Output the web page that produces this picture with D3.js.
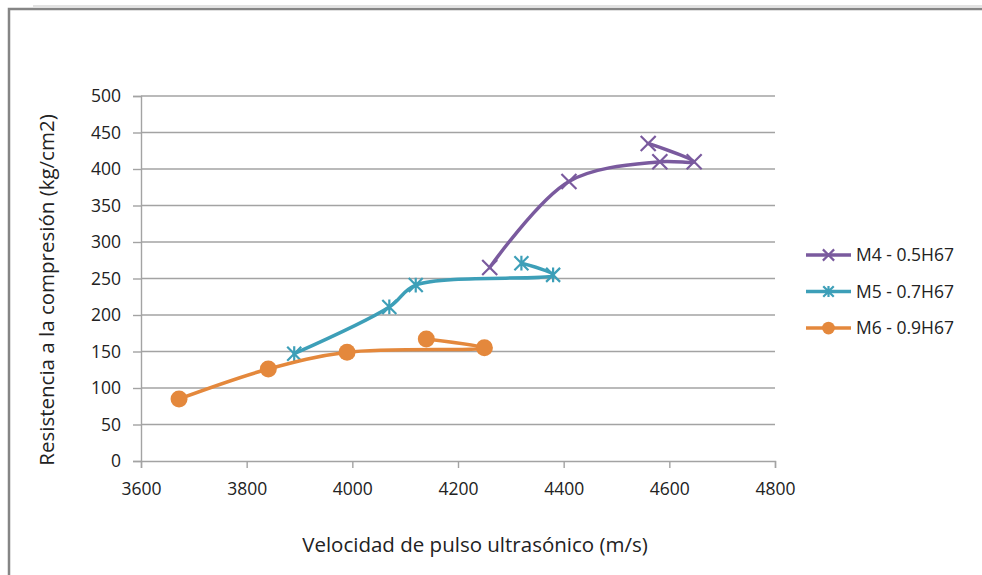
<!DOCTYPE html>
<html>
<head>
<meta charset="utf-8">
<script src="https://cdn.jsdelivr.net/npm/d3@7"></script>
<style>
  html, body { margin: 0; padding: 0; background: #fff; }
  svg { display: block; }
  text { font-family: "Open Sans", "DejaVu Sans", sans-serif; fill: #222; }
</style>
</head>
<body>
<svg id="chart" width="982" height="575"></svg>
<script>
// Ultrasonic pulse velocity (m/s) vs. compressive strength (kg/cm2)
const seriesNames = ["M4 - 0.5H67", "M5 - 0.7H67", "M6 - 0.9H67"];
const seriesColors = ["#7a5a9e", "#3d9fb8", "#e4883c"];
const seriesMarkers = ["x", "star", "circle"];

const m4Velocity = [4260, 4410, 4582, 4647, 4560];
const m4Strength = [265, 383, 410, 410, 435];

const m5Velocity = [3890, 4070, 4120, 4380, 4320];
const m5Strength = [147, 211, 241, 255, 271];

const m6Velocity = [3672, 3841, 3990, 4250, 4140];
const m6Strength = [85, 126, 149, 155, 167];

const xTicks = [3600, 3800, 4000, 4200, 4400, 4600, 4800];
const yTicks = [0, 50, 100, 150, 200, 250, 300, 350, 400, 450, 500];

const xTitle = "Velocidad de pulso ultrasónico (m/s)";
const yTitle = "Resistencia a la compresión (kg/cm2)";

const series = [
  { name: seriesNames[0], color: seriesColors[0], marker: seriesMarkers[0],
    pts: m4Velocity.map((v, i) => [v, m4Strength[i]]) },
  { name: seriesNames[1], color: seriesColors[1], marker: seriesMarkers[1],
    pts: m5Velocity.map((v, i) => [v, m5Strength[i]]) },
  { name: seriesNames[2], color: seriesColors[2], marker: seriesMarkers[2],
    pts: m6Velocity.map((v, i) => [v, m6Strength[i]]) }
];

const svg = d3.select("#chart");

// outer frame
svg.append("line").attr("x1", 33).attr("x2", 982).attr("y1", 6).attr("y2", 6)
  .attr("stroke", "#e2e2e2").attr("stroke-width", 2);
svg.append("path").attr("d", "M9,575V9H982")
  .attr("fill", "none").attr("stroke", "#858585").attr("stroke-width", 2.5);

const plot = { left: 141, right: 775, top: 96, bottom: 461 };

const x = d3.scaleLinear().domain([3600, 4800]).range([plot.left, plot.right]);
const y = d3.scaleLinear().domain([0, 500]).range([plot.bottom, plot.top]);

// horizontal gridlines
svg.append("g").selectAll("line").data(yTicks.filter(d => d > 0)).join("line")
  .attr("x1", plot.left).attr("x2", plot.right)
  .attr("y1", d => y(d)).attr("y2", d => y(d))
  .attr("stroke", "#a3a3a3").attr("stroke-width", 1.4);

// y axis
const yAxis = svg.append("g").attr("transform", `translate(${plot.left},0)`)
  .call(d3.axisLeft(y).tickValues(yTicks).tickSize(8).tickPadding(12).tickFormat(d3.format("d")));
yAxis.select(".domain").attr("stroke", "#a3a3a3").attr("stroke-width", 1.4);
yAxis.selectAll(".tick line").attr("stroke", "#a3a3a3").attr("stroke-width", 1.4);
yAxis.selectAll("text").attr("font-size", 17.5).attr("fill", "#222")
  .attr("font-family", "'Open Sans', sans-serif");

// x axis
const xAxis = svg.append("g").attr("transform", `translate(0,${plot.bottom})`)
  .call(d3.axisBottom(x).tickValues(xTicks).tickSize(7).tickPadding(15).tickFormat(d3.format("d")));
xAxis.select(".domain").attr("stroke", "#a3a3a3").attr("stroke-width", 1.4);
xAxis.selectAll(".tick line").attr("stroke", "#a3a3a3").attr("stroke-width", 1.4);
xAxis.selectAll("text").attr("font-size", 17.5).attr("fill", "#222")
  .attr("font-family", "'Open Sans', sans-serif");

// axis titles
svg.append("text").attr("x", 475).attr("y", 552)
  .attr("text-anchor", "middle").attr("font-size", 20.5).text(xTitle);
svg.append("text")
  .attr("transform", "translate(54,290) rotate(-90)")
  .attr("text-anchor", "middle").attr("font-size", 20.5).text(yTitle);

const line = d3.line().x(d => x(d[0])).y(d => y(d[1]))
  .curve(d3.curveCatmullRom.alpha(0.5));

function drawMarker(g, type, cx, cy, color, scale) {
  const s = scale || 1;
  if (type === "x") {
    const r = 7.5 * s;
    g.append("path")
      .attr("d", `M${cx - r},${cy - r}L${cx + r},${cy + r}M${cx - r},${cy + r}L${cx + r},${cy - r}`)
      .attr("stroke", color).attr("stroke-width", 2.2).attr("fill", "none");
  } else if (type === "star") {
    const r = 7 * s;
    g.append("path")
      .attr("d", `M${cx - r},${cy - r}L${cx + r},${cy + r}M${cx - r},${cy + r}L${cx + r},${cy - r}M${cx},${cy - r * 1.05}L${cx},${cy + r * 1.05}`)
      .attr("stroke", color).attr("stroke-width", 2.2).attr("fill", "none");
  } else {
    g.append("circle").attr("cx", cx).attr("cy", cy).attr("r", 8.5 * s)
      .attr("fill", color);
  }
}

series.forEach(s => {
  const g = svg.append("g");
  g.append("path").datum(s.pts).attr("d", line)
    .attr("fill", "none").attr("stroke", s.color).attr("stroke-width", 3.5)
    .attr("stroke-linejoin", "round").attr("stroke-linecap", "round");
  s.pts.forEach(p => drawMarker(g, s.marker, x(p[0]), y(p[1]), s.color, 1));
});

// legend
const legend = svg.append("g");
series.forEach((s, i) => {
  const ly = 255 + i * 36.5;
  legend.append("line").attr("x1", 806).attr("x2", 851).attr("y1", ly).attr("y2", ly)
    .attr("stroke", s.color).attr("stroke-width", 3.5);
  drawMarker(legend, s.marker, 828.5, ly, s.color, 0.75);
  legend.append("text").attr("x", 856).attr("y", ly + 6)
    .attr("font-size", 17.5).text(s.name);
});
</script>
</body>
</html>
